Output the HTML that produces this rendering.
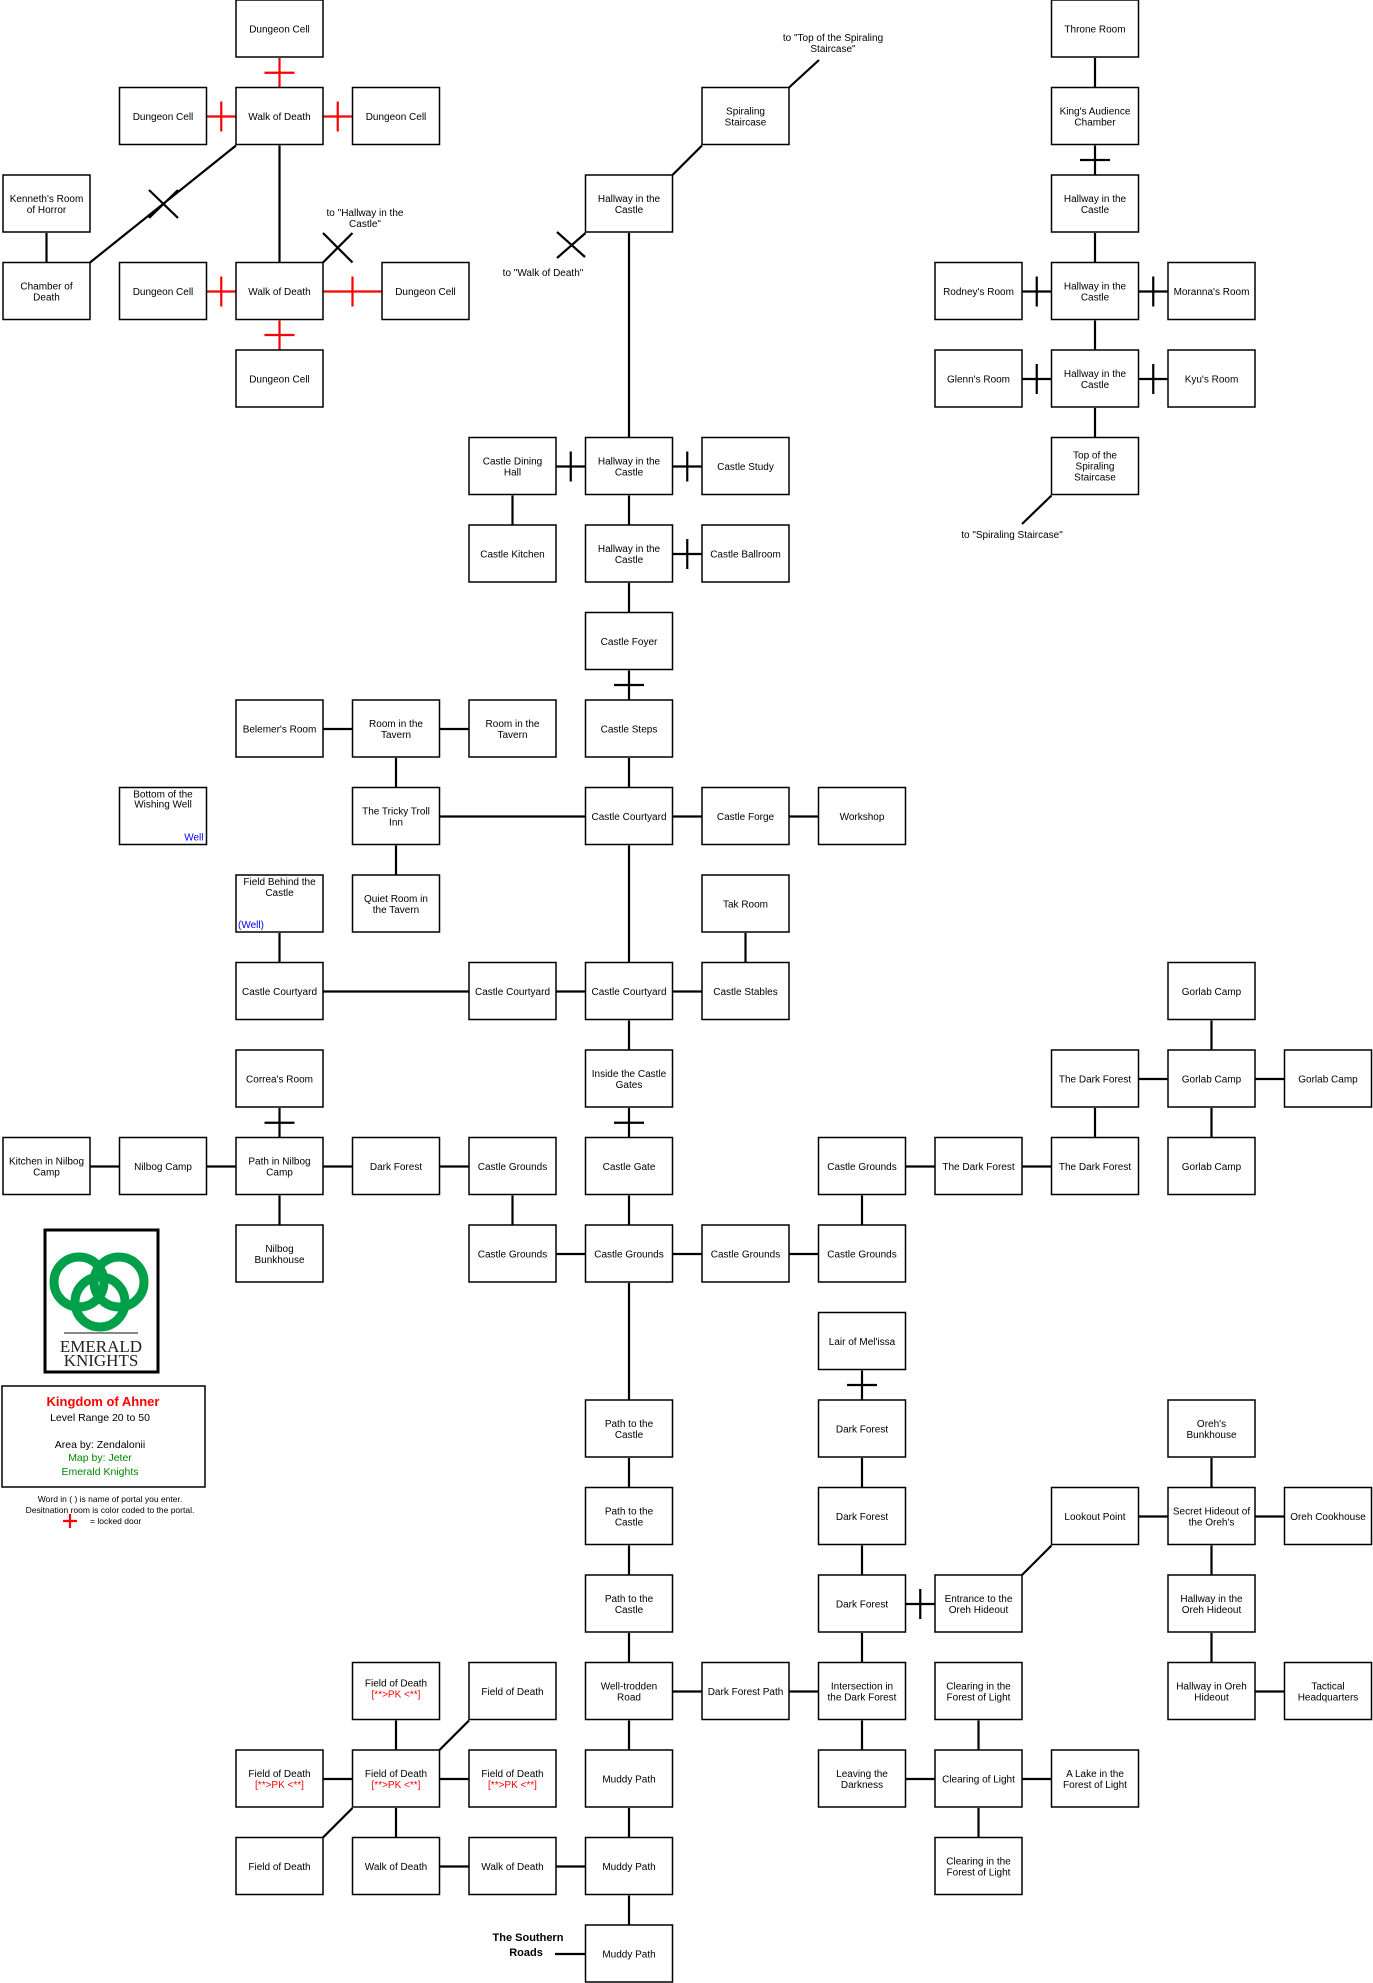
<!DOCTYPE html>
<html><head><meta charset="utf-8"><style>
html,body{margin:0;padding:0;background:#fff}
svg{display:block}
text{font-family:"Liberation Sans",Arial,sans-serif;font-size:10px;fill:#000;text-anchor:middle}
.b rect{fill:#fff;stroke:#000;stroke-width:1.5}
.e{stroke:#000;stroke-width:2.2;fill:none}
.r{stroke:#f00;stroke-width:2.2;fill:none}
.red{fill:#f00}
</style></head><body>
<svg width="1373" height="1983" viewBox="0 0 1373 1983" xmlns="http://www.w3.org/2000/svg">
<!-- edges -->
<path class="e" d="M1095 58V87.5 M1095 145.5V175 M1080 160H1110 M279.5 145.5V262.5 M46.5 233V262.5 M1095 233V262.5 M1095 320.5V350 M1095 408V437.5 M629 233V437.5 M512.5 495.5V525 M629 495.5V525 M629 583V612.5 M629 670.5V700 M614 685H644 M396 758V787.5 M629 758V787.5 M396 845.5V875 M629 845.5V962.5 M745.5 933V962.5 M279.5 933V962.5 M629 1020.5V1050 M279.5 1108V1137.5 M264.5 1122.75H294.5 M629 1108V1137.5 M614 1122.75H644 M1211.5 1020.5V1050 M1095 1108V1137.5 M1211.5 1108V1137.5 M279.5 1195.5V1225 M512.5 1195.5V1225 M629 1195.5V1225 M862 1195.5V1225 M629 1283V1400 M862 1370.5V1400 M847 1385H877 M862 1458V1487.5 M862 1545.5V1575 M862 1633V1662.5 M629 1458V1487.5 M629 1545.5V1575 M629 1633V1662.5 M629 1720.5V1750 M629 1808V1837.5 M629 1895.5V1925 M1211.5 1458V1487.5 M1211.5 1545.5V1575 M1211.5 1633V1662.5 M396 1720.5V1750 M396 1808V1837.5 M862 1720.5V1750 M978.5 1720.5V1750 M978.5 1808V1837.5"/>
<path class="e" d="M1022 291.5H1051.5 M1036.75 276.5V306.5 M1138.5 291.5H1168 M1153.25 276.5V306.5 M1022 379H1051.5 M1036.75 364V394 M1138.5 379H1168 M1153.25 364V394 M556 466.5H585.5 M570.75 451.5V481.5 M672.5 466.5H702 M687.25 451.5V481.5 M672.5 554H702 M687.25 539V569 M323 729H352.5 M439.5 729H469 M439.5 816.5H585.5 M672.5 816.5H702 M789 816.5H818.5 M323 991.5H469 M556 991.5H585.5 M672.5 991.5H702 M1138.5 1079H1168 M1255 1079H1284.5 M90 1166.5H119.5 M206.5 1166.5H236 M323 1166.5H352.5 M439.5 1166.5H469 M905.5 1166.5H935 M1022 1166.5H1051.5 M556 1254H585.5 M672.5 1254H702 M789 1254H818.5 M1138.5 1516.5H1168 M1255 1516.5H1284.5 M905.5 1604H935 M920.25 1589V1619 M672.5 1691.5H702 M789 1691.5H818.5 M1255 1691.5H1284.5 M323 1779H352.5 M439.5 1779H469 M905.5 1779H935 M1022 1779H1051.5 M439.5 1866.5H469 M556 1866.5H585.5 M555 1954H585.5"/>
<!-- diagonals -->
<path class="e" d="M236 145.5L90 262.5 M149 190L178 218 M149 218L178 190 M323 262.5L352.5 233 M323 233L352.5 262.5 M585.5 233L557 258 M557 232L585 257 M702 145.5L672.5 175 M789 87.5L819 60 M1051.5 495.5L1022 524 M1051.5 1545.5L1022 1575 M439.5 1750L469 1720.5 M352.5 1808L323 1837.5"/>
<path class="r" d="M279.5 58V87.5 M264.5 72.75H294.5 M279.5 320.5V350 M264.5 335H294.5 M206.5 116.5H236 M221.25 101.5V131.5 M323 116.5H352.5 M337.75 101.5V131.5 M206.5 291.5H236 M221.25 276.5V306.5 M323 291.5H382 M352.5 276.5V306.5"/>
<text x="365" y="216">to "Hallway in the</text><text x="365" y="227">Castle"</text>
<text x="543" y="276">to "Walk of Death"</text>
<text x="833" y="41">to "Top of the Spiraling</text><text x="833" y="52">Staircase"</text>
<text x="1012" y="538">to "Spiraling Staircase"</text>
<text x="528" y="1941" style="font-weight:bold;font-size:11px">The Southern</text>
<text x="526" y="1956" style="font-weight:bold;font-size:11px">Roads</text>
<!-- boxes -->
<g class="b">
<g transform="translate(236,0)"><rect width="87" height="57"/><text x="43.5" y="32.5">Dungeon Cell</text></g>
<g transform="translate(1051.5,0)"><rect width="87" height="57"/><text x="43.5" y="32.5">Throne Room</text></g>
<g transform="translate(119.5,87.5)"><rect width="87" height="57"/><text x="43.5" y="32.5">Dungeon Cell</text></g>
<g transform="translate(236,87.5)"><rect width="87" height="57"/><text x="43.5" y="32.5">Walk of Death</text></g>
<g transform="translate(352.5,87.5)"><rect width="87" height="57"/><text x="43.5" y="32.5">Dungeon Cell</text></g>
<g transform="translate(702,87.5)"><rect width="87" height="57"/><text x="43.5" y="27">Spiraling</text><text x="43.5" y="38">Staircase</text></g>
<g transform="translate(1051.5,87.5)"><rect width="87" height="57"/><text x="43.5" y="27">King's Audience</text><text x="43.5" y="38">Chamber</text></g>
<g transform="translate(3,175)"><rect width="87" height="57"/><text x="43.5" y="27">Kenneth's Room</text><text x="43.5" y="38">of Horror</text></g>
<g transform="translate(585.5,175)"><rect width="87" height="57"/><text x="43.5" y="27">Hallway in the</text><text x="43.5" y="38">Castle</text></g>
<g transform="translate(1051.5,175)"><rect width="87" height="57"/><text x="43.5" y="27">Hallway in the</text><text x="43.5" y="38">Castle</text></g>
<g transform="translate(3,262.5)"><rect width="87" height="57"/><text x="43.5" y="27">Chamber of</text><text x="43.5" y="38">Death</text></g>
<g transform="translate(119.5,262.5)"><rect width="87" height="57"/><text x="43.5" y="32.5">Dungeon Cell</text></g>
<g transform="translate(236,262.5)"><rect width="87" height="57"/><text x="43.5" y="32.5">Walk of Death</text></g>
<g transform="translate(382,262.5)"><rect width="87" height="57"/><text x="43.5" y="32.5">Dungeon Cell</text></g>
<g transform="translate(935,262.5)"><rect width="87" height="57"/><text x="43.5" y="32.5">Rodney's Room</text></g>
<g transform="translate(1051.5,262.5)"><rect width="87" height="57"/><text x="43.5" y="27">Hallway in the</text><text x="43.5" y="38">Castle</text></g>
<g transform="translate(1168,262.5)"><rect width="87" height="57"/><text x="43.5" y="32.5">Moranna's Room</text></g>
<g transform="translate(236,350)"><rect width="87" height="57"/><text x="43.5" y="32.5">Dungeon Cell</text></g>
<g transform="translate(935,350)"><rect width="87" height="57"/><text x="43.5" y="32.5">Glenn's Room</text></g>
<g transform="translate(1051.5,350)"><rect width="87" height="57"/><text x="43.5" y="27">Hallway in the</text><text x="43.5" y="38">Castle</text></g>
<g transform="translate(1168,350)"><rect width="87" height="57"/><text x="43.5" y="32.5">Kyu's Room</text></g>
<g transform="translate(469,437.5)"><rect width="87" height="57"/><text x="43.5" y="27">Castle Dining</text><text x="43.5" y="38">Hall</text></g>
<g transform="translate(585.5,437.5)"><rect width="87" height="57"/><text x="43.5" y="27">Hallway in the</text><text x="43.5" y="38">Castle</text></g>
<g transform="translate(702,437.5)"><rect width="87" height="57"/><text x="43.5" y="32.5">Castle Study</text></g>
<g transform="translate(1051.5,437.5)"><rect width="87" height="57"/><text x="43.5" y="21">Top of the</text><text x="43.5" y="32">Spiraling</text><text x="43.5" y="43">Staircase</text></g>
<g transform="translate(469,525)"><rect width="87" height="57"/><text x="43.5" y="32.5">Castle Kitchen</text></g>
<g transform="translate(585.5,525)"><rect width="87" height="57"/><text x="43.5" y="27">Hallway in the</text><text x="43.5" y="38">Castle</text></g>
<g transform="translate(702,525)"><rect width="87" height="57"/><text x="43.5" y="32.5">Castle Ballroom</text></g>
<g transform="translate(585.5,612.5)"><rect width="87" height="57"/><text x="43.5" y="32.5">Castle Foyer</text></g>
<g transform="translate(236,700)"><rect width="87" height="57"/><text x="43.5" y="32.5">Belemer's Room</text></g>
<g transform="translate(352.5,700)"><rect width="87" height="57"/><text x="43.5" y="27">Room in the</text><text x="43.5" y="38">Tavern</text></g>
<g transform="translate(469,700)"><rect width="87" height="57"/><text x="43.5" y="27">Room in the</text><text x="43.5" y="38">Tavern</text></g>
<g transform="translate(585.5,700)"><rect width="87" height="57"/><text x="43.5" y="32.5">Castle Steps</text></g>
<g transform="translate(119.5,787.5)"><rect width="87" height="57"/><text x="43.5" y="10">Bottom of the</text><text x="43.5" y="20">Wishing Well</text><text x="84" y="53" style="text-anchor:end;fill:#00f">Well</text></g>
<g transform="translate(352.5,787.5)"><rect width="87" height="57"/><text x="43.5" y="27">The Tricky Troll</text><text x="43.5" y="38">Inn</text></g>
<g transform="translate(585.5,787.5)"><rect width="87" height="57"/><text x="43.5" y="32.5">Castle Courtyard</text></g>
<g transform="translate(702,787.5)"><rect width="87" height="57"/><text x="43.5" y="32.5">Castle Forge</text></g>
<g transform="translate(818.5,787.5)"><rect width="87" height="57"/><text x="43.5" y="32.5">Workshop</text></g>
<g transform="translate(236,875)"><rect width="87" height="57"/><text x="43.5" y="10">Field Behind the</text><text x="43.5" y="21">Castle</text><text x="2" y="53" style="text-anchor:start;fill:#00f">(Well)</text></g>
<g transform="translate(352.5,875)"><rect width="87" height="57"/><text x="43.5" y="27">Quiet Room in</text><text x="43.5" y="38">the Tavern</text></g>
<g transform="translate(702,875)"><rect width="87" height="57"/><text x="43.5" y="32.5">Tak Room</text></g>
<g transform="translate(236,962.5)"><rect width="87" height="57"/><text x="43.5" y="32.5">Castle Courtyard</text></g>
<g transform="translate(469,962.5)"><rect width="87" height="57"/><text x="43.5" y="32.5">Castle Courtyard</text></g>
<g transform="translate(585.5,962.5)"><rect width="87" height="57"/><text x="43.5" y="32.5">Castle Courtyard</text></g>
<g transform="translate(702,962.5)"><rect width="87" height="57"/><text x="43.5" y="32.5">Castle Stables</text></g>
<g transform="translate(1168,962.5)"><rect width="87" height="57"/><text x="43.5" y="32.5">Gorlab Camp</text></g>
<g transform="translate(236,1050)"><rect width="87" height="57"/><text x="43.5" y="32.5">Correa's Room</text></g>
<g transform="translate(585.5,1050)"><rect width="87" height="57"/><text x="43.5" y="27">Inside the Castle</text><text x="43.5" y="38">Gates</text></g>
<g transform="translate(1051.5,1050)"><rect width="87" height="57"/><text x="43.5" y="32.5">The Dark Forest</text></g>
<g transform="translate(1168,1050)"><rect width="87" height="57"/><text x="43.5" y="32.5">Gorlab Camp</text></g>
<g transform="translate(1284.5,1050)"><rect width="87" height="57"/><text x="43.5" y="32.5">Gorlab Camp</text></g>
<g transform="translate(3,1137.5)"><rect width="87" height="57"/><text x="43.5" y="27">Kitchen in Nilbog</text><text x="43.5" y="38">Camp</text></g>
<g transform="translate(119.5,1137.5)"><rect width="87" height="57"/><text x="43.5" y="32.5">Nilbog Camp</text></g>
<g transform="translate(236,1137.5)"><rect width="87" height="57"/><text x="43.5" y="27">Path in Nilbog</text><text x="43.5" y="38">Camp</text></g>
<g transform="translate(352.5,1137.5)"><rect width="87" height="57"/><text x="43.5" y="32.5">Dark Forest</text></g>
<g transform="translate(469,1137.5)"><rect width="87" height="57"/><text x="43.5" y="32.5">Castle Grounds</text></g>
<g transform="translate(585.5,1137.5)"><rect width="87" height="57"/><text x="43.5" y="32.5">Castle Gate</text></g>
<g transform="translate(818.5,1137.5)"><rect width="87" height="57"/><text x="43.5" y="32.5">Castle Grounds</text></g>
<g transform="translate(935,1137.5)"><rect width="87" height="57"/><text x="43.5" y="32.5">The Dark Forest</text></g>
<g transform="translate(1051.5,1137.5)"><rect width="87" height="57"/><text x="43.5" y="32.5">The Dark Forest</text></g>
<g transform="translate(1168,1137.5)"><rect width="87" height="57"/><text x="43.5" y="32.5">Gorlab Camp</text></g>
<g transform="translate(236,1225)"><rect width="87" height="57"/><text x="43.5" y="27">Nilbog</text><text x="43.5" y="38">Bunkhouse</text></g>
<g transform="translate(469,1225)"><rect width="87" height="57"/><text x="43.5" y="32.5">Castle Grounds</text></g>
<g transform="translate(585.5,1225)"><rect width="87" height="57"/><text x="43.5" y="32.5">Castle Grounds</text></g>
<g transform="translate(702,1225)"><rect width="87" height="57"/><text x="43.5" y="32.5">Castle Grounds</text></g>
<g transform="translate(818.5,1225)"><rect width="87" height="57"/><text x="43.5" y="32.5">Castle Grounds</text></g>
<g transform="translate(818.5,1312.5)"><rect width="87" height="57"/><text x="43.5" y="32.5">Lair of Mel'issa</text></g>
<g transform="translate(585.5,1400)"><rect width="87" height="57"/><text x="43.5" y="27">Path to the</text><text x="43.5" y="38">Castle</text></g>
<g transform="translate(818.5,1400)"><rect width="87" height="57"/><text x="43.5" y="32.5">Dark Forest</text></g>
<g transform="translate(1168,1400)"><rect width="87" height="57"/><text x="43.5" y="27">Oreh's</text><text x="43.5" y="38">Bunkhouse</text></g>
<g transform="translate(585.5,1487.5)"><rect width="87" height="57"/><text x="43.5" y="27">Path to the</text><text x="43.5" y="38">Castle</text></g>
<g transform="translate(818.5,1487.5)"><rect width="87" height="57"/><text x="43.5" y="32.5">Dark Forest</text></g>
<g transform="translate(1051.5,1487.5)"><rect width="87" height="57"/><text x="43.5" y="32.5">Lookout Point</text></g>
<g transform="translate(1168,1487.5)"><rect width="87" height="57"/><text x="43.5" y="27">Secret Hideout of</text><text x="43.5" y="38">the Oreh's</text></g>
<g transform="translate(1284.5,1487.5)"><rect width="87" height="57"/><text x="43.5" y="32.5">Oreh Cookhouse</text></g>
<g transform="translate(585.5,1575)"><rect width="87" height="57"/><text x="43.5" y="27">Path to the</text><text x="43.5" y="38">Castle</text></g>
<g transform="translate(818.5,1575)"><rect width="87" height="57"/><text x="43.5" y="32.5">Dark Forest</text></g>
<g transform="translate(935,1575)"><rect width="87" height="57"/><text x="43.5" y="27">Entrance to the</text><text x="43.5" y="38">Oreh Hideout</text></g>
<g transform="translate(1168,1575)"><rect width="87" height="57"/><text x="43.5" y="27">Hallway in the</text><text x="43.5" y="38">Oreh Hideout</text></g>
<g transform="translate(352.5,1662.5)"><rect width="87" height="57"/><text x="43.5" y="24">Field of Death</text><text x="43.5" y="35" class="red">[**&gt;PK &lt;**]</text></g>
<g transform="translate(469,1662.5)"><rect width="87" height="57"/><text x="43.5" y="32.5">Field of Death</text></g>
<g transform="translate(585.5,1662.5)"><rect width="87" height="57"/><text x="43.5" y="27">Well-trodden</text><text x="43.5" y="38">Road</text></g>
<g transform="translate(702,1662.5)"><rect width="87" height="57"/><text x="43.5" y="32.5">Dark Forest Path</text></g>
<g transform="translate(818.5,1662.5)"><rect width="87" height="57"/><text x="43.5" y="27">Intersection in</text><text x="43.5" y="38">the Dark Forest</text></g>
<g transform="translate(935,1662.5)"><rect width="87" height="57"/><text x="43.5" y="27">Clearing in the</text><text x="43.5" y="38">Forest of Light</text></g>
<g transform="translate(1168,1662.5)"><rect width="87" height="57"/><text x="43.5" y="27">Hallway in Oreh</text><text x="43.5" y="38">Hideout</text></g>
<g transform="translate(1284.5,1662.5)"><rect width="87" height="57"/><text x="43.5" y="27">Tactical</text><text x="43.5" y="38">Headquarters</text></g>
<g transform="translate(236,1750)"><rect width="87" height="57"/><text x="43.5" y="27">Field of Death</text><text x="43.5" y="38" class="red">[**&gt;PK &lt;**]</text></g>
<g transform="translate(352.5,1750)"><rect width="87" height="57"/><text x="43.5" y="27">Field of Death</text><text x="43.5" y="38" class="red">[**&gt;PK &lt;**]</text></g>
<g transform="translate(469,1750)"><rect width="87" height="57"/><text x="43.5" y="27">Field of Death</text><text x="43.5" y="38" class="red">[**&gt;PK &lt;**]</text></g>
<g transform="translate(585.5,1750)"><rect width="87" height="57"/><text x="43.5" y="32.5">Muddy Path</text></g>
<g transform="translate(818.5,1750)"><rect width="87" height="57"/><text x="43.5" y="27">Leaving the</text><text x="43.5" y="38">Darkness</text></g>
<g transform="translate(935,1750)"><rect width="87" height="57"/><text x="43.5" y="32.5">Clearing of Light</text></g>
<g transform="translate(1051.5,1750)"><rect width="87" height="57"/><text x="43.5" y="27">A Lake in the</text><text x="43.5" y="38">Forest of Light</text></g>
<g transform="translate(236,1837.5)"><rect width="87" height="57"/><text x="43.5" y="32.5">Field of Death</text></g>
<g transform="translate(352.5,1837.5)"><rect width="87" height="57"/><text x="43.5" y="32.5">Walk of Death</text></g>
<g transform="translate(469,1837.5)"><rect width="87" height="57"/><text x="43.5" y="32.5">Walk of Death</text></g>
<g transform="translate(585.5,1837.5)"><rect width="87" height="57"/><text x="43.5" y="32.5">Muddy Path</text></g>
<g transform="translate(935,1837.5)"><rect width="87" height="57"/><text x="43.5" y="27">Clearing in the</text><text x="43.5" y="38">Forest of Light</text></g>
<g transform="translate(585.5,1925)"><rect width="87" height="57"/><text x="43.5" y="32.5">Muddy Path</text></g>
</g>
<!-- logo -->
<rect x="45" y="1230" width="113" height="142" fill="#fff" stroke="#000" stroke-width="3"/>
<g fill="none" stroke="#00a04a" stroke-width="9">
<circle cx="79" cy="1282" r="25"/><circle cx="119" cy="1282" r="25"/><circle cx="100" cy="1302" r="25"/>
</g>
<line x1="64" y1="1333" x2="138" y2="1333" stroke="#888" stroke-width="2"/>
<text x="101" y="1352" style="font-family:'Liberation Serif',serif;font-size:17px;fill:#222">EMERALD</text>
<text x="101" y="1366" style="font-family:'Liberation Serif',serif;font-size:17px;fill:#222">KNIGHTS</text>
<!-- legend -->
<rect x="2" y="1386" width="203" height="101" fill="#fff" stroke="#000" stroke-width="1.5"/>
<text x="103" y="1406" style="font-size:13px;font-weight:bold;fill:#f00">Kingdom of Ahner</text>
<text x="100" y="1421" style="font-size:10.5px">Level Range 20 to 50</text>
<text x="100" y="1448" style="font-size:10.5px">Area by: Zendalonii</text>
<text x="100" y="1461" style="font-size:10.5px;fill:#080">Map by: Jeter</text>
<text x="100" y="1475" style="font-size:10.5px;fill:#080">Emerald Knights</text>
<text x="110" y="1502" style="font-size:8.5px">Word in ( ) is name of portal you enter.</text>
<text x="110" y="1513" style="font-size:8.5px">Desitnation room is color coded to the portal.</text>
<path class="r" d="M63 1521H77 M70 1514V1528"/>
<text x="90" y="1524" style="font-size:8.5px;text-anchor:start">= locked door</text>
</svg>
</body></html>
